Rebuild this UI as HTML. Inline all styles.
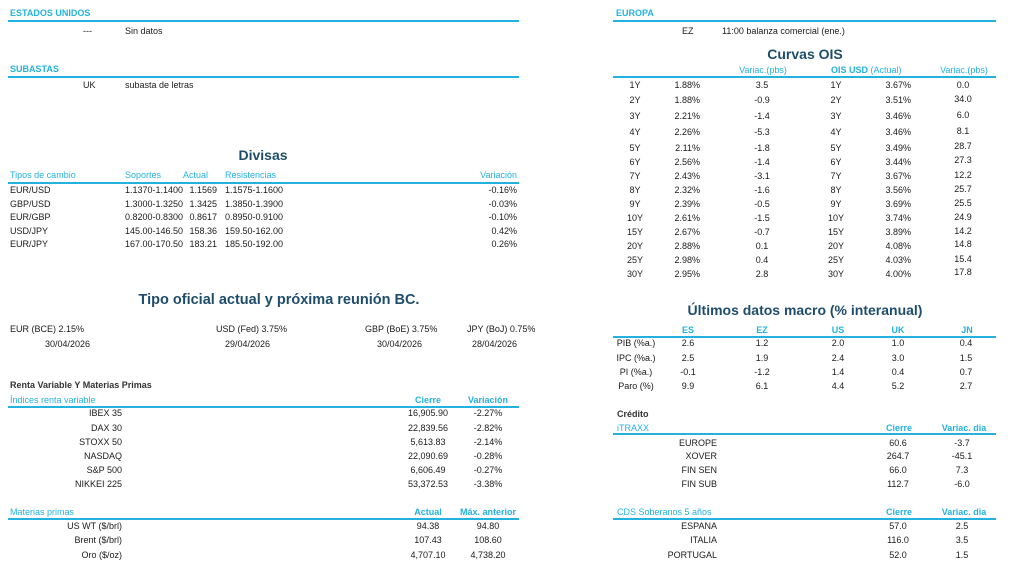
<!DOCTYPE html>
<html>
<head>
<meta charset="utf-8">
<style>
html,body{margin:0;padding:0;background:#fff;}
body{width:1024px;height:561px;position:relative;overflow:hidden;font-family:"Liberation Sans",Arial,sans-serif;color:#1a1a1a;}
.t{position:absolute;white-space:nowrap;font-size:9px;line-height:10px;}
.c{transform:translateX(-50%);}
.r{transform:translateX(-100%);}
.b{color:#23b2de;}
.bb{color:#23b2de;font-weight:bold;}
.hd{color:#23b2de;font-weight:bold;}
.dk{color:#333;font-weight:bold;}
.ttl{position:absolute;white-space:nowrap;font-size:14px;line-height:16px;font-weight:bold;color:#1e4d6b;transform:translateX(-50%);}
.ln{position:absolute;height:2px;background:#23b2de;}
</style>
</head>
<body>

<!-- LEFT: ESTADOS UNIDOS -->
<div class="t hd" style="left:10px;top:8px;">ESTADOS UNIDOS</div>
<div class="ln" style="left:8px;top:20px;width:511px;"></div>
<div class="t" style="left:83px;top:26px;">---</div>
<div class="t" style="left:125px;top:26px;">Sin datos</div>

<div class="t hd" style="left:10px;top:64px;">SUBASTAS</div>
<div class="ln" style="left:8px;top:76px;width:511px;"></div>
<div class="t" style="left:83px;top:80px;">UK</div>
<div class="t" style="left:125px;top:80px;">subasta de letras</div>

<!-- DIVISAS -->
<div class="ttl" style="left:263px;top:147px;">Divisas</div>
<div class="t b" style="left:10px;top:170px;">Tipos de cambio</div>
<div class="t b" style="left:125px;top:170px;">Soportes</div>
<div class="t b" style="left:183px;top:170px;">Actual</div>
<div class="t b" style="left:225px;top:170px;">Resistencias</div>
<div class="t b r" style="left:517px;top:170px;">Variación</div>
<div class="ln" style="left:8px;top:182px;width:511px;"></div>

<div class="t" style="left:10px;top:185px;">EUR/USD</div>
<div class="t" style="left:125px;top:185px;">1.1370-1.1400</div>
<div class="t r" style="left:217px;top:185px;">1.1569</div>
<div class="t" style="left:225px;top:185px;">1.1575-1.1600</div>
<div class="t r" style="left:517px;top:185px;">-0.16%</div>

<div class="t" style="left:10px;top:198.5px;">GBP/USD</div>
<div class="t" style="left:125px;top:198.5px;">1.3000-1.3250</div>
<div class="t r" style="left:217px;top:198.5px;">1.3425</div>
<div class="t" style="left:225px;top:198.5px;">1.3850-1.3900</div>
<div class="t r" style="left:517px;top:198.5px;">-0.03%</div>

<div class="t" style="left:10px;top:212px;">EUR/GBP</div>
<div class="t" style="left:125px;top:212px;">0.8200-0.8300</div>
<div class="t r" style="left:217px;top:212px;">0.8617</div>
<div class="t" style="left:225px;top:212px;">0.8950-0.9100</div>
<div class="t r" style="left:517px;top:212px;">-0.10%</div>

<div class="t" style="left:10px;top:225.5px;">USD/JPY</div>
<div class="t" style="left:125px;top:225.5px;">145.00-146.50</div>
<div class="t r" style="left:217px;top:225.5px;">158.36</div>
<div class="t" style="left:225px;top:225.5px;">159.50-162.00</div>
<div class="t r" style="left:517px;top:225.5px;">0.42%</div>

<div class="t" style="left:10px;top:239px;">EUR/JPY</div>
<div class="t" style="left:125px;top:239px;">167.00-170.50</div>
<div class="t r" style="left:217px;top:239px;">183.21</div>
<div class="t" style="left:225px;top:239px;">185.50-192.00</div>
<div class="t r" style="left:517px;top:239px;">0.26%</div>

<!-- TIPO OFICIAL -->
<div class="ttl" style="left:279px;top:292px;font-size:14.5px;">Tipo oficial actual y próxima reunión BC.</div>
<div class="t" style="left:10px;top:324px;">EUR (BCE) 2.15%</div>
<div class="t" style="left:216px;top:324px;">USD (Fed) 3.75%</div>
<div class="t" style="left:365px;top:324px;">GBP (BoE) 3.75%</div>
<div class="t" style="left:467px;top:324px;">JPY (BoJ) 0.75%</div>
<div class="t" style="left:45px;top:339px;">30/04/2026</div>
<div class="t" style="left:225px;top:339px;">29/04/2026</div>
<div class="t" style="left:377px;top:339px;">30/04/2026</div>
<div class="t" style="left:472px;top:339px;">28/04/2026</div>

<!-- RENTA VARIABLE -->
<div class="t dk" style="left:10px;top:380px;">Renta Variable Y Materias Primas</div>
<div class="t b" style="left:10px;top:395px;">Índices renta variable</div>
<div class="t bb c" style="left:428px;top:395px;">Cierre</div>
<div class="t bb c" style="left:488px;top:395px;">Variación</div>
<div class="ln" style="left:8px;top:406px;width:511px;"></div>

<div class="t r" style="left:122px;top:408px;">IBEX 35</div>
<div class="t c" style="left:428px;top:408px;">16,905.90</div>
<div class="t c" style="left:488px;top:408px;">-2.27%</div>

<div class="t r" style="left:122px;top:422.5px;">DAX 30</div>
<div class="t c" style="left:428px;top:422.5px;">22,839.56</div>
<div class="t c" style="left:488px;top:422.5px;">-2.82%</div>

<div class="t r" style="left:122px;top:437px;">STOXX 50</div>
<div class="t c" style="left:428px;top:437px;">5,613.83</div>
<div class="t c" style="left:488px;top:437px;">-2.14%</div>

<div class="t r" style="left:122px;top:451px;">NASDAQ</div>
<div class="t c" style="left:428px;top:451px;">22,090.69</div>
<div class="t c" style="left:488px;top:451px;">-0.28%</div>

<div class="t r" style="left:122px;top:464.5px;">S&amp;P 500</div>
<div class="t c" style="left:428px;top:464.5px;">6,606.49</div>
<div class="t c" style="left:488px;top:464.5px;">-0.27%</div>

<div class="t r" style="left:122px;top:479px;">NIKKEI 225</div>
<div class="t c" style="left:428px;top:479px;">53,372.53</div>
<div class="t c" style="left:488px;top:479px;">-3.38%</div>

<!-- MATERIAS PRIMAS -->
<div class="t b" style="left:10px;top:507px;">Materias primas</div>
<div class="t bb c" style="left:428px;top:507px;">Actual</div>
<div class="t bb c" style="left:488px;top:507px;">Máx. anterior</div>
<div class="ln" style="left:8px;top:518px;width:511px;"></div>

<div class="t r" style="left:122px;top:521px;">US WT ($/brl)</div>
<div class="t c" style="left:428px;top:521px;">94.38</div>
<div class="t c" style="left:488px;top:521px;">94.80</div>

<div class="t r" style="left:122px;top:535px;">Brent ($/brl)</div>
<div class="t c" style="left:428px;top:535px;">107.43</div>
<div class="t c" style="left:488px;top:535px;">108.60</div>

<div class="t r" style="left:122px;top:549.5px;">Oro ($/oz)</div>
<div class="t c" style="left:428px;top:549.5px;">4,707.10</div>
<div class="t c" style="left:488px;top:549.5px;">4,738.20</div>

<!-- RIGHT: EUROPA -->
<div class="t hd" style="left:616px;top:8px;">EUROPA</div>
<div class="ln" style="left:613px;top:20px;width:383px;"></div>
<div class="t" style="left:682px;top:26px;">EZ</div>
<div class="t" style="left:722px;top:26px;">11:00 balanza comercial (ene.)</div>

<!-- CURVAS OIS -->
<div class="ttl" style="left:805px;top:46px;">Curvas OIS</div>
<div class="t b c" style="left:763px;top:65px;">Variac.(pbs)</div>
<div class="t b" style="left:831px;top:65px;"><b>OIS USD</b> (Actual)</div>
<div class="t b c" style="left:964px;top:65px;">Variac.(pbs)</div>
<div class="ln" style="left:613px;top:76px;width:383px;"></div>

<div class="t c" style="left:635px;top:80px;">1Y</div><div class="t r" style="left:700px;top:80px;">1.88%</div><div class="t c" style="left:762px;top:80px;">3.5</div><div class="t c" style="left:836px;top:80px;">1Y</div><div class="t r" style="left:911px;top:80px;">3.67%</div><div class="t c" style="left:963px;top:80px;">0.0</div>
<div class="t c" style="left:635px;top:95px;">2Y</div><div class="t r" style="left:700px;top:95px;">1.88%</div><div class="t c" style="left:762px;top:95px;">-0.9</div><div class="t c" style="left:836px;top:95px;">2Y</div><div class="t r" style="left:911px;top:95px;">3.51%</div><div class="t c" style="left:963px;top:94px;">34.0</div>
<div class="t c" style="left:635px;top:111px;">3Y</div><div class="t r" style="left:700px;top:111px;">2.21%</div><div class="t c" style="left:762px;top:111px;">-1.4</div><div class="t c" style="left:836px;top:111px;">3Y</div><div class="t r" style="left:911px;top:111px;">3.46%</div><div class="t c" style="left:963px;top:110px;">6.0</div>
<div class="t c" style="left:635px;top:127px;">4Y</div><div class="t r" style="left:700px;top:127px;">2.26%</div><div class="t c" style="left:762px;top:127px;">-5.3</div><div class="t c" style="left:836px;top:127px;">4Y</div><div class="t r" style="left:911px;top:127px;">3.46%</div><div class="t c" style="left:963px;top:126px;">8.1</div>
<div class="t c" style="left:635px;top:143px;">5Y</div><div class="t r" style="left:700px;top:143px;">2.11%</div><div class="t c" style="left:762px;top:143px;">-1.8</div><div class="t c" style="left:836px;top:143px;">5Y</div><div class="t r" style="left:911px;top:143px;">3.49%</div><div class="t c" style="left:963px;top:141px;">28.7</div>
<div class="t c" style="left:635px;top:157px;">6Y</div><div class="t r" style="left:700px;top:157px;">2.56%</div><div class="t c" style="left:762px;top:157px;">-1.4</div><div class="t c" style="left:836px;top:157px;">6Y</div><div class="t r" style="left:911px;top:157px;">3.44%</div><div class="t c" style="left:963px;top:155px;">27.3</div>
<div class="t c" style="left:635px;top:171px;">7Y</div><div class="t r" style="left:700px;top:171px;">2.43%</div><div class="t c" style="left:762px;top:171px;">-3.1</div><div class="t c" style="left:836px;top:171px;">7Y</div><div class="t r" style="left:911px;top:171px;">3.67%</div><div class="t c" style="left:963px;top:170px;">12.2</div>
<div class="t c" style="left:635px;top:184.5px;">8Y</div><div class="t r" style="left:700px;top:184.5px;">2.32%</div><div class="t c" style="left:762px;top:184.5px;">-1.6</div><div class="t c" style="left:836px;top:184.5px;">8Y</div><div class="t r" style="left:911px;top:184.5px;">3.56%</div><div class="t c" style="left:963px;top:183.5px;">25.7</div>
<div class="t c" style="left:635px;top:199px;">9Y</div><div class="t r" style="left:700px;top:199px;">2.39%</div><div class="t c" style="left:762px;top:199px;">-0.5</div><div class="t c" style="left:836px;top:199px;">9Y</div><div class="t r" style="left:911px;top:199px;">3.69%</div><div class="t c" style="left:963px;top:198px;">25.5</div>
<div class="t c" style="left:635px;top:213px;">10Y</div><div class="t r" style="left:700px;top:213px;">2.61%</div><div class="t c" style="left:762px;top:213px;">-1.5</div><div class="t c" style="left:836px;top:213px;">10Y</div><div class="t r" style="left:911px;top:213px;">3.74%</div><div class="t c" style="left:963px;top:211.5px;">24.9</div>
<div class="t c" style="left:635px;top:227px;">15Y</div><div class="t r" style="left:700px;top:227px;">2.67%</div><div class="t c" style="left:762px;top:227px;">-0.7</div><div class="t c" style="left:836px;top:227px;">15Y</div><div class="t r" style="left:911px;top:227px;">3.89%</div><div class="t c" style="left:963px;top:225.5px;">14.2</div>
<div class="t c" style="left:635px;top:240.5px;">20Y</div><div class="t r" style="left:700px;top:240.5px;">2.88%</div><div class="t c" style="left:762px;top:240.5px;">0.1</div><div class="t c" style="left:836px;top:240.5px;">20Y</div><div class="t r" style="left:911px;top:240.5px;">4.08%</div><div class="t c" style="left:963px;top:239px;">14.8</div>
<div class="t c" style="left:635px;top:254.5px;">25Y</div><div class="t r" style="left:700px;top:254.5px;">2.98%</div><div class="t c" style="left:762px;top:254.5px;">0.4</div><div class="t c" style="left:836px;top:254.5px;">25Y</div><div class="t r" style="left:911px;top:254.5px;">4.03%</div><div class="t c" style="left:963px;top:253.5px;">15.4</div>
<div class="t c" style="left:635px;top:268.5px;">30Y</div><div class="t r" style="left:700px;top:268.5px;">2.95%</div><div class="t c" style="left:762px;top:268.5px;">2.8</div><div class="t c" style="left:836px;top:268.5px;">30Y</div><div class="t r" style="left:911px;top:268.5px;">4.00%</div><div class="t c" style="left:963px;top:267px;">17.8</div>

<!-- MACRO -->
<div class="ttl" style="left:805px;top:302px;">Últimos datos macro (% interanual)</div>
<div class="t bb c" style="left:688px;top:325px;">ES</div>
<div class="t bb c" style="left:762px;top:325px;">EZ</div>
<div class="t bb c" style="left:838px;top:325px;">US</div>
<div class="t bb c" style="left:898px;top:325px;">UK</div>
<div class="t bb c" style="left:967px;top:325px;">JN</div>
<div class="ln" style="left:613px;top:336px;width:383px;"></div>

<div class="t c" style="left:636px;top:338px;">PIB (%a.)</div><div class="t c" style="left:688px;top:338px;">2.6</div><div class="t c" style="left:762px;top:338px;">1.2</div><div class="t c" style="left:838px;top:338px;">2.0</div><div class="t c" style="left:898px;top:338px;">1.0</div><div class="t c" style="left:966px;top:338px;">0.4</div>
<div class="t c" style="left:636px;top:352.5px;">IPC (%a.)</div><div class="t c" style="left:688px;top:352.5px;">2.5</div><div class="t c" style="left:762px;top:352.5px;">1.9</div><div class="t c" style="left:838px;top:352.5px;">2.4</div><div class="t c" style="left:898px;top:352.5px;">3.0</div><div class="t c" style="left:966px;top:352.5px;">1.5</div>
<div class="t c" style="left:636px;top:367px;">PI (%a.)</div><div class="t c" style="left:688px;top:367px;">-0.1</div><div class="t c" style="left:762px;top:367px;">-1.2</div><div class="t c" style="left:838px;top:367px;">1.4</div><div class="t c" style="left:898px;top:367px;">0.4</div><div class="t c" style="left:966px;top:367px;">0.7</div>
<div class="t c" style="left:636px;top:381px;">Paro (%)</div><div class="t c" style="left:688px;top:381px;">9.9</div><div class="t c" style="left:762px;top:381px;">6.1</div><div class="t c" style="left:838px;top:381px;">4.4</div><div class="t c" style="left:898px;top:381px;">5.2</div><div class="t c" style="left:966px;top:381px;">2.7</div>

<!-- CREDITO -->
<div class="t dk" style="left:617px;top:409px;">Crédito</div>
<div class="t b" style="left:617px;top:423px;">iTRAXX</div>
<div class="t bb c" style="left:899px;top:423px;">Cierre</div>
<div class="t bb c" style="left:964px;top:423px;">Variac. dia</div>
<div class="ln" style="left:613px;top:433px;width:383px;"></div>

<div class="t r" style="left:717px;top:438px;">EUROPE</div><div class="t c" style="left:898px;top:438px;">60.6</div><div class="t c" style="left:962px;top:438px;">-3.7</div>
<div class="t r" style="left:717px;top:451px;">XOVER</div><div class="t c" style="left:898px;top:451px;">264.7</div><div class="t c" style="left:962px;top:451px;">-45.1</div>
<div class="t r" style="left:717px;top:465px;">FIN SEN</div><div class="t c" style="left:898px;top:465px;">66.0</div><div class="t c" style="left:962px;top:465px;">7.3</div>
<div class="t r" style="left:717px;top:479px;">FIN SUB</div><div class="t c" style="left:898px;top:479px;">112.7</div><div class="t c" style="left:962px;top:479px;">-6.0</div>

<!-- CDS -->
<div class="t b" style="left:617px;top:507px;">CDS Soberanos 5 años</div>
<div class="t bb c" style="left:899px;top:507px;">Cierre</div>
<div class="t bb c" style="left:964px;top:507px;">Variac. dia</div>
<div class="ln" style="left:613px;top:518px;width:383px;"></div>

<div class="t r" style="left:717px;top:521px;">ESPANA</div><div class="t c" style="left:898px;top:521px;">57.0</div><div class="t c" style="left:962px;top:521px;">2.5</div>
<div class="t r" style="left:717px;top:535px;">ITALIA</div><div class="t c" style="left:898px;top:535px;">116.0</div><div class="t c" style="left:962px;top:535px;">3.5</div>
<div class="t r" style="left:717px;top:549.5px;">PORTUGAL</div><div class="t c" style="left:898px;top:549.5px;">52.0</div><div class="t c" style="left:962px;top:549.5px;">1.5</div>

</body>
</html>
